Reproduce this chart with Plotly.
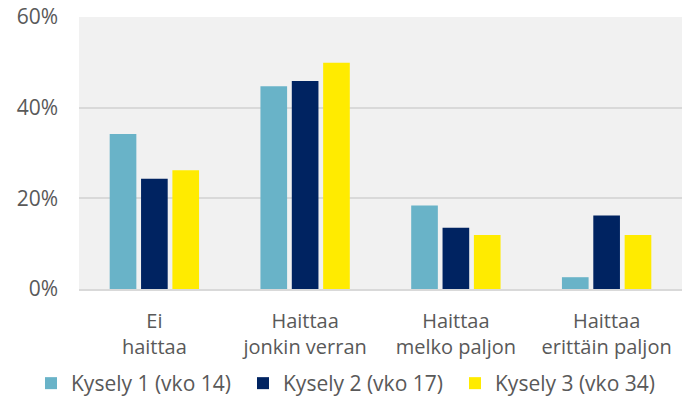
import plotly.graph_objects as go

categories = ["Ei<br>haittaa", "Haittaa<br>jonkin verran", "Haittaa<br>melko paljon", "Haittaa<br>erittäin paljon"]
series_names = ["Kysely 1 (vko 14)", "Kysely 2 (vko 17)", "Kysely 3 (vko 34)"]
kysely1 = [0.342, 0.447, 0.184, 0.026]
kysely2 = [0.243, 0.459, 0.135, 0.162]
kysely3 = [0.262, 0.499, 0.119, 0.119]
colors = ["#69B3C8", "#002361", "#FFEB00"]
y_ticks = [0, 0.2, 0.4, 0.6]
y_ticklabels = ["0%", "20%", "40%", "60%"]

fig = go.Figure()
for name, vals, col in zip(series_names, [kysely1, kysely2, kysely3], colors):
    fig.add_trace(go.Bar(x=categories, y=vals, name=name, marker_color=col,
                         marker_line_width=0))

font_family = "'Open Sans', Lato, sans-serif"
fig.update_layout(
    width=682, height=404,
    margin=dict(l=79, r=0, t=17, b=114),
    paper_bgcolor="white",
    plot_bgcolor="#F1F1F1",
    barmode="group",
    bargap=0.376,
    bargroupgap=0.15,
    font=dict(family=font_family, color="#595959", size=20),
    legend=dict(orientation="h", x=(31 - 79) / 603, xanchor="left",
                y=-0.348, yanchor="middle",
                font=dict(size=21, color="#595959"), itemwidth=30, traceorder="normal",
                entrywidth=167, entrywidthmode="pixels"),
    showlegend=True,
)
fig.update_yaxes(range=[0, 0.6], tickvals=y_ticks, ticktext=y_ticklabels,
                 gridcolor="#D9D9D9", gridwidth=1.5, zeroline=False,
                 showline=False, tickfont=dict(size=21, color="#595959"),
                 ticks="", ticklen=0, automargin=False, ticklabelstandoff=20)
fig.update_xaxes(showline=True, linecolor="#D9D9D9", linewidth=2,
                 tickfont=dict(size=20, color="#595959"), ticks="",
                 automargin=False, ticklabelstandoff=13)

fig.write_html("out.html", config={"displayModeBar": False},
               post_script="document.body.style.margin='0';document.body.style.padding='0';")
